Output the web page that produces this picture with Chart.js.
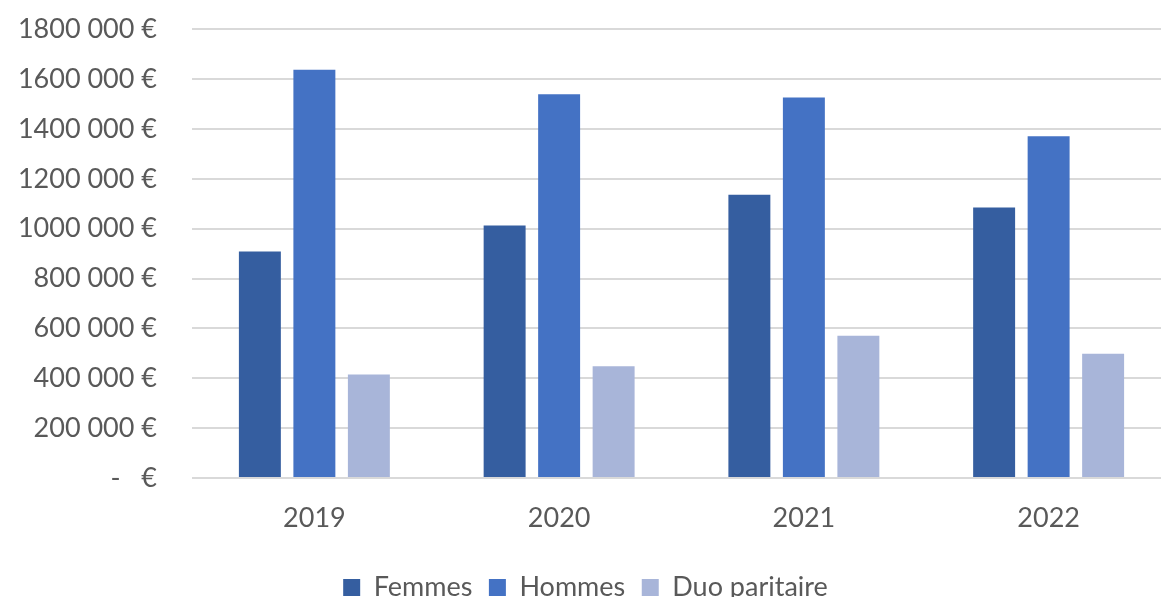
<!DOCTYPE html>
<html>
<head>
<meta charset="utf-8">
<script src="https://cdn.jsdelivr.net/npm/chart.js@4/dist/chart.umd.min.js"></script>
<style>
  html, body { margin: 0; padding: 0; background: #fff; overflow: hidden; }
  #wrap { position: relative; width: 1175px; height: 633px; margin-top: -22px; }
</style>
</head>
<body>
<div id="wrap"><canvas id="myChart"></canvas></div>
<script>
"use strict";

// data
let years=["2019", "2020", "2021", "2022"];
let femmes=[909000, 1013000, 1136000, 1085000];
let hommes=[1637000, 1539000, 1526000, 1371000];
let duo=[415000, 448000, 571000, 499000];
let seriesNames=["Femmes", "Hommes", "Duo paritaire"];
let yMax=1800000;
let yStep=200000;

let GREY="#595959";
let FONT="Lato";

function euro(v) {
    if(v==0) return "-   €";
    let k=Math.floor(v/1000);
    return k + " " + String(v%1000).padStart(3, "0") + " €";
}

let ctx=document.getElementById("myChart");
let myChart=new Chart(ctx, {
    type: "bar",
    data: {
        labels: years,
        datasets: [
            { label: seriesNames[0], data: femmes, backgroundColor: "#355EA0" },
            { label: seriesNames[1], data: hommes, backgroundColor: "#4472C4" },
            { label: seriesNames[2], data: duo, backgroundColor: "#A8B5D9" }
        ]
    },
    options: {
        responsive: true,
        maintainAspectRatio: false,
        animation: false,
        datasets: {
            bar: { categoryPercentage: 0.668, barPercentage: 0.77 }
        },
        layout: { padding: { top: 13, right: 4, left: 0, bottom: 0 } },
        plugins: {
            tooltip: { enabled: false },
            legend: {
                position: "bottom",
                labels: {
                    boxWidth: 17,
                    boxHeight: 17,
                    padding: 16.5,
                    color: GREY,
                    font: { family: FONT, size: 27 }
                }
            }
        },
        scales: {
            x: {
                grid: { display: false, drawTicks: false },
                border: { display: false },
                ticks: { color: GREY, padding: 23.5, font: { family: FONT, size: 27 } }
            },
            y: {
                min: 0,
                max: yMax,
                afterFit: function(scale) { scale.width=192; },
                grid: { color: "#D9D9D9", lineWidth: 2, drawTicks: false },
                border: { display: false },
                ticks: {
                    stepSize: yStep,
                    padding: 35,
                    color: GREY,
                    font: { family: FONT, size: 27 },
                    callback: function(v) { return euro(v); }
                }
            }
        }
    }
});
</script>
</body>
</html>
